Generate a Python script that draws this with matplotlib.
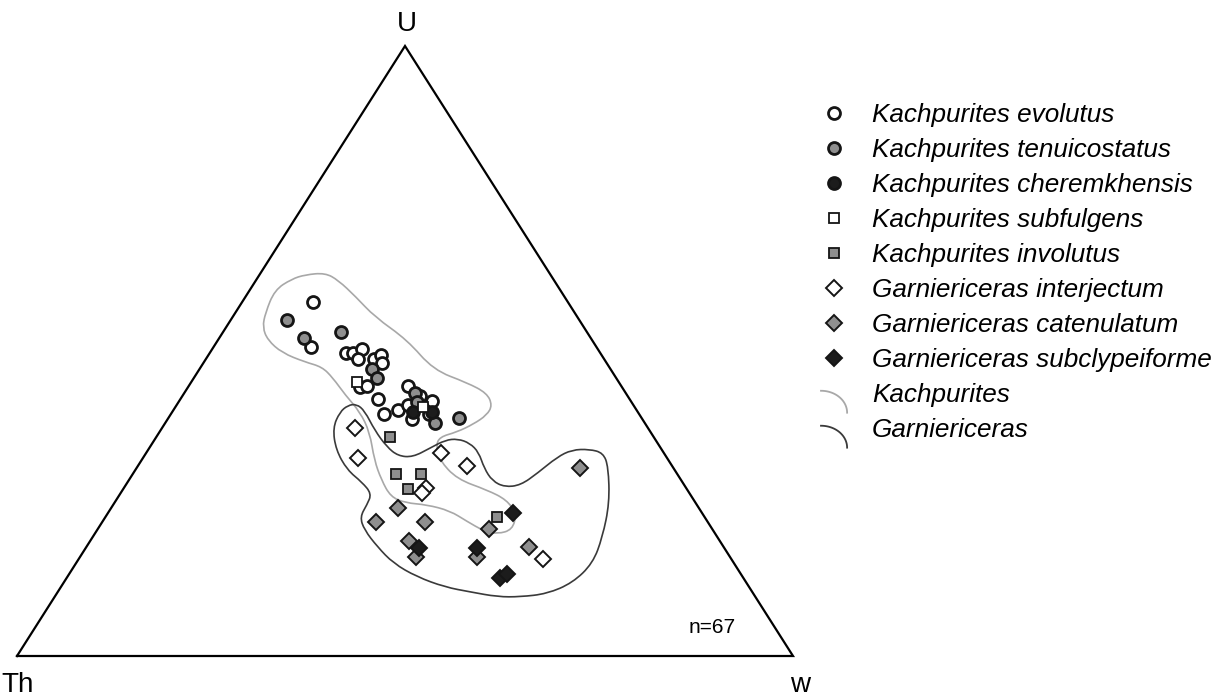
import numpy as np
import matplotlib
matplotlib.use("Agg")
import matplotlib.pyplot as plt
from matplotlib.path import Path
from matplotlib.patches import PathPatch
from matplotlib.lines import Line2D
from matplotlib.legend_handler import HandlerBase

plt.rcParams['font.family'] = ['Liberation Sans', 'DejaVu Sans']

# ternary compositions in %: U and w given, Th = 100 - U - w
evolutus_U = [58.0, 50.7, 49.7, 49.7, 50.3, 48.7, 48.7, 49.3, 48.0, 44.1, 44.3, 42.1,
              39.7, 40.3, 44.3, 38.9, 41.8, 41.1, 42.6, 39.7]
evolutus_w = [9.1, 12.5, 17.6, 18.5, 19.3, 19.6, 21.6, 22.2, 23.0, 22.2, 22.9, 25.5,
              27.4, 28.9, 28.2, 31.5, 32.6, 29.9, 30.6, 33.2]
tenuicostatus_U = [55.1, 52.1, 53.1, 47.0, 45.6, 43.1, 41.6, 38.2, 39.0]
tenuicostatus_w = [7.3, 10.9, 15.2, 22.2, 23.6, 29.7, 30.7, 34.8, 37.5]
cheremkhensis_U = [40.0, 40.0]
cheremkhensis_w = [31.0, 33.5]
subfulgens_U = [44.9, 40.8]
subfulgens_w = [21.4, 31.9]
involutus_U = [35.9, 29.8, 29.8, 27.4, 22.8]
involutus_w = [30.1, 33.9, 37.2, 36.7, 50.5]
interjectum_U = [37.4, 32.5, 33.3, 31.1, 27.5, 26.7, 15.9]
interjectum_w = [24.9, 27.7, 38.0, 42.5, 38.9, 38.8, 59.8]
catenulatum_U = [30.8, 24.3, 22.0, 22.0, 18.9, 16.2, 16.2, 20.8, 17.9]
catenulatum_w = [57.2, 37.0, 35.3, 41.6, 41.1, 43.3, 51.2, 50.4, 57.0]
subclypeiforme_U = [23.4, 17.7, 17.7, 12.8, 13.4]
subclypeiforme_w = [52.2, 43.0, 50.4, 55.8, 56.4]

# outline of each genus field (U %, w %)
kachpurites_U = [56.2, 60.0, 61.8, 62.5, 62.8, 61.6, 58.9, 55.6, 51.8, 46.9, 44.8, 43.1,
                 41.1, 39.5, 38.0, 36.7, 35.9, 34.4, 32.1, 29.0, 27.2, 25.6, 23.3, 20.7,
                 20.0, 20.5, 22.1, 23.8, 24.8, 25.1, 26.1, 28.9, 32.1, 36.7, 40.0, 42.8,
                 45.6, 47.4, 48.2, 49.7, 51.8, 53.9]
kachpurites_w = [3.9, 3.2, 4.5, 5.9, 8.3, 10.6, 14.2, 18.3, 24.4, 30.2, 35.6, 39.0,
                 40.7, 40.8, 39.8, 38.3, 36.5, 36.8, 38.4, 42.2, 47.0, 50.3, 52.7, 53.5,
                 51.9, 49.9, 46.9, 43.9, 40.4, 37.5, 35.1, 32.5, 30.0, 27.1, 24.2, 20.9,
                 17.9, 15.6, 13.0, 9.3, 6.4, 4.7]
garniericeras_U = [40.0, 41.1, 41.3, 40.2, 37.0, 34.3, 32.8, 32.6, 34.1, 35.4, 35.6, 34.9,
                   33.4, 30.8, 28.7, 27.7, 28.0, 30.0, 32.6, 33.8, 33.9, 33.3, 31.0, 25.1,
                   19.5, 15.2, 12.0, 10.2, 9.7, 9.7, 10.5, 11.3, 13.0, 15.2, 17.9, 20.7,
                   22.8, 24.8, 26.6, 28.5, 30.5, 33.8, 37.4]
garniericeras_w = [21.6, 22.1, 23.1, 24.7, 27.6, 30.5, 32.7, 34.7, 36.2, 37.5, 39.0, 40.9,
                   42.8, 44.8, 46.9, 49.0, 50.9, 52.1, 53.3, 54.6, 56.8, 58.9, 60.7, 63.8,
                   65.7, 66.6, 65.6, 63.2, 60.0, 57.1, 53.2, 49.5, 45.0, 40.9, 37.5, 34.4,
                   32.8, 32.7, 32.4, 30.2, 27.3, 24.2, 22.0]

GRAY = '#8f8f8f'
DARK = '#1c1c1c'

species = [
    ('Kachpurites evolutus', evolutus_U, evolutus_w, 'o', 'white', 8.6, 2.0),
    ('Kachpurites tenuicostatus', tenuicostatus_U, tenuicostatus_w, 'o', GRAY, 8.6, 2.0),
    ('Kachpurites cheremkhensis', cheremkhensis_U, cheremkhensis_w, 'o', DARK, 8.6, 2.0),
    ('Kachpurites subfulgens', subfulgens_U, subfulgens_w, 's', 'white', 7.8, 1.3),
    ('Kachpurites involutus', involutus_U, involutus_w, 's', GRAY, 7.8, 1.3),
    ('Garniericeras interjectum', interjectum_U, interjectum_w, 'D', 'white', 7.8, 1.4),
    ('Garniericeras catenulatum', catenulatum_U, catenulatum_w, 'D', GRAY, 7.8, 1.4),
    ('Garniericeras subclypeiforme', subclypeiforme_U, subclypeiforme_w, 'D', DARK, 7.8, 1.4),
]
fields = [
    ('Kachpurites', kachpurites_U, kachpurites_w, '#a8a8a8'),
    ('Garniericeras', garniericeras_U, garniericeras_w, '#3a3a3a'),
]


def tern_xy(U, w):
    U = np.asarray(U, dtype=float) / 100
    w = np.asarray(w, dtype=float) / 100
    return w + U / 2, U


def smooth_closed(x, y):
    # closed quadratic b-spline through the outline points
    pts = np.column_stack([x, y])
    mids = (pts + np.roll(pts, -1, axis=0)) / 2
    verts = [mids[-1]]
    codes = [Path.MOVETO]
    for i in range(len(pts)):
        verts += [pts[i], mids[i]]
        codes += [Path.CURVE3, Path.CURVE3]
    return Path(verts, codes)


class HandlerCurve(HandlerBase):
    def create_artists(self, legend, orig_handle, xdescent, ydescent,
                       width, height, fontsize, trans):
        t = np.linspace(0, np.pi / 2, 30)
        x = -xdescent + width * np.sin(t)
        y = -ydescent + height * (-0.6 + 1.2 * np.cos(t))
        ln = Line2D(x, y, color=orig_handle.get_color(), lw=1.3, transform=trans)
        return [ln]


fig = plt.figure(figsize=(12.24, 6.97), dpi=100)
ax = fig.add_axes([17 / 1224, 41 / 697, 776 / 1224, 610 / 697])
ax.set_xlim(0, 1)
ax.set_ylim(0, 1)
ax.axis('off')

# triangle frame
vx, vy = tern_xy([0, 0, 100, 0], [0, 100, 0, 0])
ax.plot(vx, vy, color='black', lw=1.6, solid_joinstyle='miter', clip_on=False, zorder=1)

for name, fU, fw, col in fields:
    fx, fy = tern_xy(fU, fw)
    ax.add_patch(PathPatch(smooth_closed(fx, fy), facecolor='none', edgecolor=col,
                           lw=1.2, zorder=2))

for name, sU, sw, mk, fc, ms, mew in species:
    sx, sy = tern_xy(sU, sw)
    ax.plot(sx, sy, ls='none', marker=mk, ms=ms, mfc=fc, mec='#151515', mew=mew,
            zorder=3, clip_on=False)

# vertex labels
lab = dict(fontsize=20, color='black')
ax.annotate('U', xy=(vx[2], vy[2]), xytext=(2, 22), textcoords='offset pixels',
            ha='center', va='center', **lab)
ax.annotate('Th', xy=(vx[0], vy[0]), xytext=(-16, -29), textcoords='offset pixels',
            ha='left', va='center', **lab)
ax.annotate('w', xy=(vx[1], vy[1]), xytext=(7, -29), textcoords='offset pixels',
            ha='center', va='center', **lab)
ax.text(0.926, 0.046, 'n=67', fontsize=15, ha='right', va='center', transform=ax.transAxes)

handles = []
labels = []
for name, sU, sw, mk, fc, ms, mew in species:
    handles.append(Line2D([], [], ls='none', marker=mk, ms=ms, mfc=fc,
                          mec='#151515', mew=mew))
    labels.append(name)
curve_handles = []
for name, fU, fw, col in fields:
    h = Line2D([], [], color=col)
    handles.append(h)
    curve_handles.append(h)
    labels.append(name)

leg = fig.legend(handles, labels, loc='upper left', bbox_to_anchor=(821 / 1224, 1 - 103 / 697),
                 frameon=False, borderpad=0, borderaxespad=0,
                 prop={'style': 'italic', 'size': 18.8},
                 handlelength=1.0, handletextpad=0.95, labelspacing=0.42,
                 handler_map={h: HandlerCurve() for h in curve_handles})

fig.savefig('out.png', dpi=100)
